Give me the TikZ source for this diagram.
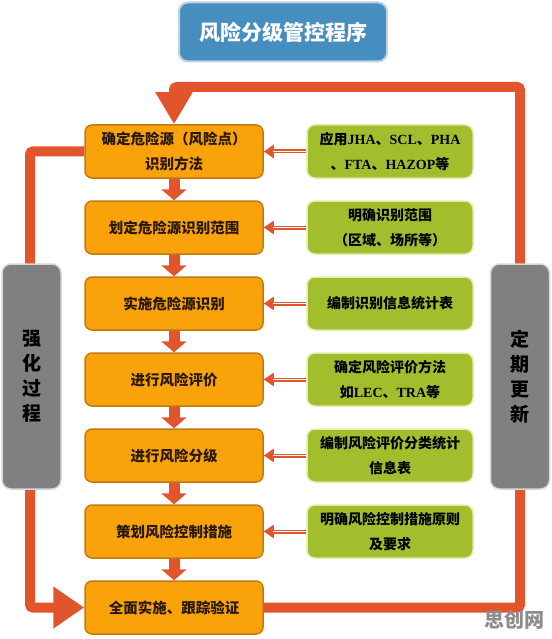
\documentclass[tikz,border=0pt]{standalone}
\usepackage{fontspec}
\setmainfont{Noto Sans CJK SC}
\newfontfamily\lat{Liberation Serif}
\usetikzlibrary{arrows.meta}
\definecolor{loopred}{RGB}{226,84,44}
\definecolor{orfill}{RGB}{250,162,10}
\definecolor{ordraw}{RGB}{196,120,20}
\definecolor{grfill}{RGB}{163,190,45}
\definecolor{grdraw}{RGB}{222,236,170}
\definecolor{gyfill}{RGB}{128,128,128}
\definecolor{gydraw}{RGB}{215,215,215}
\definecolor{tifill}{RGB}{70,142,192}
\definecolor{tidraw}{RGB}{190,208,225}
\definecolor{ortext}{RGB}{40,25,5}
\begin{document}
\begin{tikzpicture}[x=1pt,y=-1pt,
  stepbox/.style={draw=ordraw, line width=1.5pt, fill=orfill, rounded corners=7pt,
    minimum width=178pt, minimum height=53pt, inner sep=0pt, align=center,
    font=\fontsize{14.5}{25}\selectfont\bfseries, text=ortext},
  notebox/.style={draw=grdraw, line width=1.5pt, fill=grfill, rounded corners=8pt,
    minimum width=166pt, minimum height=53pt, inner sep=0pt, align=center,
    font=\fontsize{14}{25}\selectfont\bfseries, text=black},
  sidebox/.style={draw=gydraw, line width=1.5pt, fill=gyfill, rounded corners=9pt,
    minimum width=59pt, minimum height=225pt, inner sep=0pt, align=center,
    font=\fontsize{19}{25}\selectfont\bfseries, text=black},
  titlebox/.style={draw=tidraw, line width=2pt, fill=tifill, rounded corners=9pt,
    minimum width=208pt, minimum height=59pt, inner sep=0pt, text=white,
    font=\fontsize{21}{25}\selectfont\bfseries},
  flow/.style={loopred, line width=11pt, -{Triangle[width=25pt,length=11pt]}},
  feed/.style={loopred, line width=4pt, -{Triangle[width=13pt,length=10pt]}},
  feedgap/.style={white, line width=1.4pt, shorten >=9pt},
  loopline/.style={loopred, line width=10pt, rounded corners=3pt},
]
\useasboundingbox (0,0) rectangle (551,639);

% title
\node[titlebox] (title) at (283,32) {风险分级管控程序};

% main steps
\node[stepbox] (o1) at (174,151.5) {确定危险源（风险点）\\识别方法};
\node[stepbox] (o2) at (174,227.5) {划定危险源识别范围};
\node[stepbox] (o3) at (174,303.5) {实施危险源识别};
\node[stepbox] (o4) at (174,379.5) {进行风险评价};
\node[stepbox] (o5) at (174,455.5) {进行风险分级};
\node[stepbox] (o6) at (174,531.5) {策划风险控制措施};
\node[stepbox] (o7) at (174,607.5) {全面实施、跟踪验证};

% notes
\node[notebox] (g1) at (390,151.5) {应用{\lat JHA}、{\lat SCL}、{\lat PHA}\\、{\lat FTA}、{\lat HAZOP}等};
\node[notebox] (g2) at (390,227.5) {明确识别范围\\（区域、场所等）};
\node[notebox] (g3) at (390,303.5) {编制识别信息统计表};
\node[notebox] (g4) at (390,379.5) {确定风险评价方法\\如{\lat LEC}、{\lat TRA}等};
\node[notebox] (g5) at (390,455.5) {编制风险评价分类统计\\信息表};
\node[notebox] (g6) at (390,531.5) {明确风险控制措施原则\\及要求};

% down arrows
\foreach \a/\b in {o1/o2,o2/o3,o3/o4,o4/o5,o5/o6,o6/o7}
  \draw[flow] (\a.south) -- (\b.north);

% feed arrows
\foreach \g/\o in {g1/o1,g2/o2,g3/o3,g4/o4,g5/o5,g6/o6}{
  \draw[feed] (\g.west) -- (\o.east);
  \draw[feedgap] (\g.west) -- (\o.east);
}

% loops
\coordinate (tr) at (520,87);
\coordinate (lc) at (30,0);
\draw[loopline, -{Triangle[width=35pt,length=32pt]}]
  (o7.east) -- (o7.east -| tr) -- (tr) -- (tr -| o1.north) -- (o1.north);
\draw[loopline, -{Triangle[width=40pt,length=31pt]}]
  (o1.west) -- (o1.west -| lc) -- (o7.west -| lc) -- (o7.west);

% side boxes
\node[sidebox] (left) at (31.5,376.5) {强\\化\\过\\程};
\node[sidebox] (right) at (520,376.5) {定\\期\\更\\新};

% watermark
\node[text=black!45, font=\fontsize{20}{20}\selectfont\bfseries, inner sep=0pt] (wm) at (514,620) {思创网};
\end{tikzpicture}
\end{document}
